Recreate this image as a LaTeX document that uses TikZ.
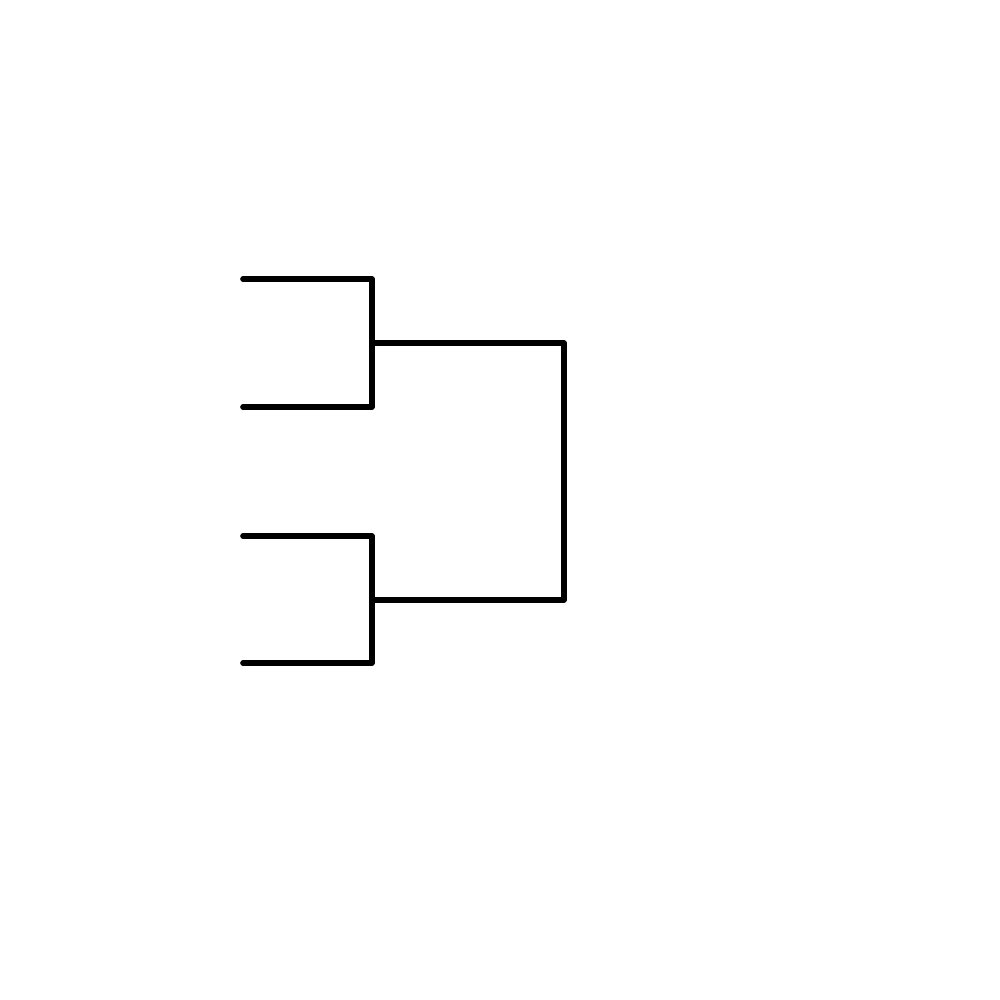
\documentclass[tikz,border=0pt]{standalone}
\tikzset{bracket/.style={line width=1.6pt, line cap=round, line join=round}}
\begin{document}
\begin{tikzpicture}
\useasboundingbox (0,0) rectangle (10,10);
\def\XIN{2.43};\def\XJOIN{3.72};\def\XFIN{5.64};
% first round entries
\coordinate (e1) at (\XIN,7.21); \coordinate (e2) at (\XIN,5.93);
\coordinate (e3) at (\XIN,4.64); \coordinate (e4) at (\XIN,3.37);
% second round
\coordinate (s1) at (\XJOIN,6.57); \coordinate (s2) at (\XJOIN,4.00);
\coordinate (f) at (\XFIN,5.285);
\draw[bracket] (e1) -| (s1) |- (e2);
\draw[bracket] (e3) -| (s2) |- (e4);
\draw[bracket] (s1) -| (f) |- (s2);
\end{tikzpicture}
\end{document}
